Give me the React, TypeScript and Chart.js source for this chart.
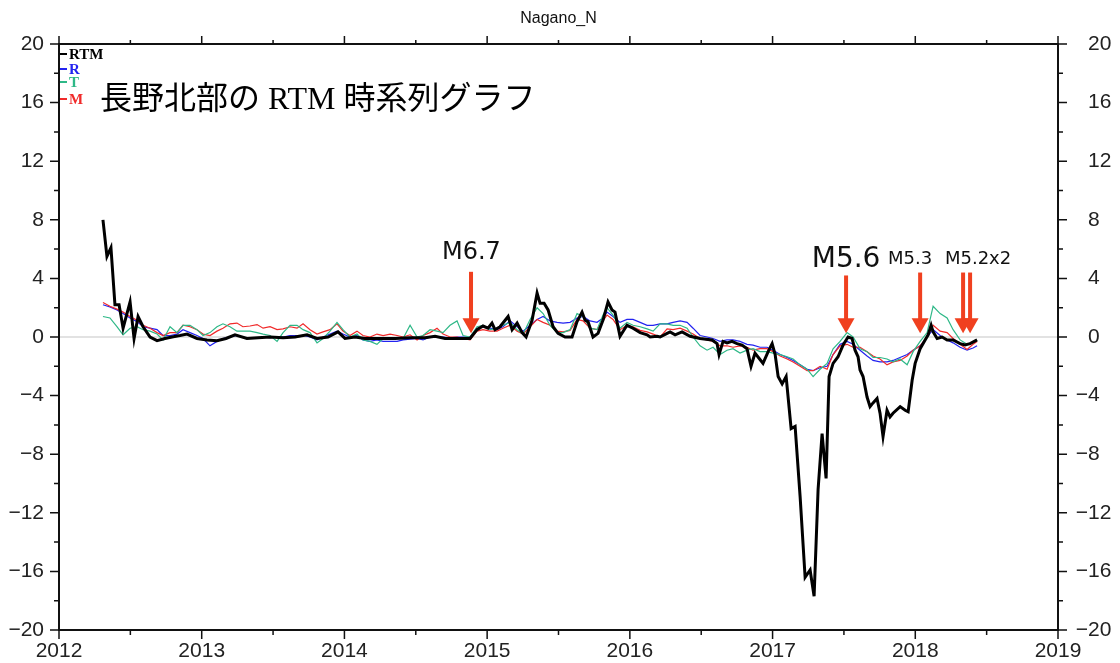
import React, { useEffect, useRef } from 'react';
import { Chart, registerables } from 'chart.js';

Chart.register(...registerables);

// ---- RTM (thick black) ----
const rtmDates = [
  2012.308, 2012.336, 2012.364, 2012.392, 2012.421, 2012.449, 2012.498, 2012.526, 2012.554, 2012.589,
  2012.638, 2012.687, 2012.743, 2012.792, 2012.848, 2012.897, 2012.967, 2013.037, 2013.107, 2013.170,
  2013.233, 2013.317, 2013.395, 2013.479, 2013.570, 2013.654, 2013.738, 2013.808, 2013.885, 2013.955,
  2014.004, 2014.074, 2014.144, 2014.250, 2014.355, 2014.460, 2014.565, 2014.635, 2014.705, 2014.810,
  2014.880, 2014.929, 2014.971, 2015.006, 2015.034, 2015.055, 2015.090, 2015.147, 2015.175, 2015.210,
  2015.245, 2015.273, 2015.315, 2015.350, 2015.371, 2015.399, 2015.427, 2015.462, 2015.497, 2015.546,
  2015.595, 2015.630, 2015.665, 2015.686, 2015.707, 2015.742, 2015.777, 2015.812, 2015.847, 2015.875,
  2015.896, 2015.931, 2015.980, 2016.022, 2016.072, 2016.121, 2016.142, 2016.191, 2016.212, 2016.261,
  2016.282, 2016.317, 2016.366, 2016.422, 2016.492, 2016.576, 2016.611, 2016.625, 2016.653, 2016.681,
  2016.716, 2016.751, 2016.786, 2016.821, 2016.849, 2016.877, 2016.905, 2016.933, 2016.969, 2016.997,
  2017.018, 2017.039, 2017.067, 2017.095, 2017.130, 2017.158, 2017.193, 2017.228, 2017.263, 2017.291,
  2017.319, 2017.347, 2017.375, 2017.396, 2017.424, 2017.459, 2017.494, 2017.529, 2017.557, 2017.578,
  2017.599, 2017.613, 2017.634, 2017.662, 2017.683, 2017.704, 2017.732, 2017.753, 2017.774, 2017.802,
  2017.823, 2017.844, 2017.894, 2017.929, 2017.950, 2017.978, 2017.999, 2018.034, 2018.069, 2018.090,
  2018.111, 2018.125, 2018.153, 2018.188, 2018.223, 2018.265, 2018.314, 2018.349, 2018.384, 2018.433,
];
const rtmValues = [
  8.0, 5.5, 6.1, 2.2, 2.2, 0.6, 2.4, -0.1, 1.4, 0.7,
  0.0, -0.25, -0.1, 0.0, 0.1, 0.2, -0.1, -0.2, -0.25, -0.1,
  0.15, -0.1, -0.05, 0.0, -0.05, 0.0, 0.15, -0.1, 0.0, 0.35,
  -0.1, 0.0, -0.1, -0.1, -0.1, -0.05, -0.05, 0.05, -0.1, -0.1,
  -0.1, 0.5, 0.75, 0.6, 0.95, 0.5, 0.7, 1.4, 0.5, 0.95,
  0.3, 0.0, 1.15, 3.0, 2.3, 2.3, 1.85, 0.7, 0.25, 0.0,
  0.0, 1.05, 1.7, 1.15, 1.05, 0.0, 0.25, 1.15, 2.4, 1.85,
  1.7, 0.05, 0.8, 0.6, 0.3, 0.15, 0.0, 0.05, 0.0, 0.25,
  0.35, 0.15, 0.35, 0.05, -0.1, -0.2, -0.45, -1.2, -0.3, -0.4,
  -0.3, -0.45, -0.55, -0.8, -2.0, -1.1, -1.45, -1.8, -1.0, -0.45,
  -1.2, -2.7, -3.2, -2.7, -6.25, -6.1, -10.9, -16.4, -15.9, -17.7,
  -10.4, -6.6, -9.65, -2.7, -1.8, -1.35, -0.55, 0.0, -0.1, -0.9,
  -1.35, -2.25, -2.7, -4.1, -4.75, -4.5, -4.2, -5.2, -6.8, -5.0,
  -5.45, -5.2, -4.75, -5.0, -5.1, -2.95, -1.8, -0.8, -0.2, 0.15,
  0.8, 0.35, -0.1, 0.0, -0.2, -0.2, -0.45, -0.55, -0.45, -0.2,
];

// ---- component series R, T, M ----
const compDates = [
  2012.308, 2012.357, 2012.406, 2012.449, 2012.498, 2012.547, 2012.589, 2012.638, 2012.687, 2012.729,
  2012.778, 2012.827, 2012.869, 2012.918, 2012.967,
  2013.009, 2013.058, 2013.107, 2013.149, 2013.198, 2013.247, 2013.289, 2013.338, 2013.388, 2013.430,
  2013.479, 2013.528, 2013.570, 2013.619, 2013.668, 2013.710, 2013.759, 2013.808, 2013.850, 2013.899,
  2013.948, 2013.990,
  2014.039, 2014.088, 2014.130, 2014.179, 2014.228, 2014.271, 2014.320, 2014.369, 2014.411, 2014.460,
  2014.509, 2014.551, 2014.600, 2014.649, 2014.691, 2014.740, 2014.789, 2014.831, 2014.880, 2014.929,
  2014.971,
  2015.020, 2015.069, 2015.111, 2015.161, 2015.210, 2015.252, 2015.301, 2015.350, 2015.392, 2015.441,
  2015.490, 2015.532, 2015.581, 2015.630, 2015.672, 2015.721, 2015.770, 2015.812, 2015.840, 2015.882,
  2015.931, 2015.980,
  2016.022, 2016.072, 2016.121, 2016.163, 2016.212, 2016.261, 2016.303, 2016.352, 2016.401, 2016.443,
  2016.492, 2016.541, 2016.583, 2016.632, 2016.681, 2016.723, 2016.772, 2016.821, 2016.863, 2016.912,
  2016.961,
  2017.004, 2017.053, 2017.102, 2017.144, 2017.193, 2017.242, 2017.284, 2017.333, 2017.382, 2017.424,
  2017.473, 2017.522, 2017.564, 2017.613, 2017.662, 2017.704, 2017.753, 2017.802, 2017.844, 2017.893,
  2017.943, 2017.985,
  2018.034, 2018.083, 2018.125, 2018.174, 2018.223, 2018.265, 2018.314, 2018.363, 2018.405, 2018.433,
];
const rValues = [
  2.2, 2.05, 1.85, 1.6, 1.3, 1.05, 0.7, 0.6, 0.5, 0.1, 0.1, 0.2, 0.5, 0.3, 0.1,
  -0.1, -0.6, -0.3, -0.1, 0.0, 0.1, 0.0, -0.1, -0.1, 0.0, -0.05, 0.0, 0.0, 0.1, 0.1, 0.1, 0.0, -0.2, 0.0, 0.2, 0.4, 0.2,
  0.0, 0.1, -0.2, -0.3, -0.2, -0.3, -0.3, -0.3, -0.2, -0.15, -0.1, -0.2, 0.0, 0.0, 0.0, -0.05, 0.0, 0.0, 0.0, 0.6, 0.7,
  0.6, 0.5, 0.7, 1.1, 0.7, 0.4, 0.8, 1.2, 1.4, 1.1, 1.0, 0.95, 1.0, 1.3, 1.4, 1.1, 1.0, 1.3, 1.7, 1.4, 1.0, 1.2,
  1.2, 1.0, 0.8, 0.8, 0.9, 0.9, 1.0, 1.1, 1.0, 0.6, 0.1, 0.0, -0.1, -0.3, -0.2, -0.2, -0.3, -0.5, -0.55, -0.7, -0.7,
  -0.9, -1.2, -1.4, -1.6, -1.9, -2.2, -2.3, -2.1, -2.0, -1.2, -0.5, -0.3, -0.5, -0.9, -1.3, -1.6, -1.7, -1.7, -1.6, -1.4, -1.2, -0.9,
  -0.6, 0.0, 0.5, 0.1, -0.2, -0.4, -0.7, -0.9, -0.75, -0.6,
];
const tValues = [
  1.4, 1.3, 0.7, 0.15, 0.6, 0.7, 0.5, 0.4, 0.2, -0.2, 0.7, 0.3, 0.8, 0.8, 0.5,
  0.1, 0.3, 0.7, 0.9, 0.7, 0.4, 0.4, 0.4, 0.3, 0.2, 0.1, -0.3, 0.3, 0.8, 0.8, 0.5, 0.3, -0.4, -0.1, 0.4, 1.0, 0.5,
  0.0, 0.2, -0.2, -0.3, -0.5, -0.1, -0.1, -0.1, -0.1, 0.8, 0.0, 0.1, 0.5, 0.4, 0.3, 0.8, 1.1, 0.1, 0.0, 0.7, 0.8,
  0.5, 0.6, 0.8, 1.0, 0.5, 0.2, 1.2, 2.0, 1.6, 0.8, 0.3, 0.3, 0.5, 1.6, 1.4, 0.6, 0.5, 1.5, 2.0, 1.5, 0.6, 1.0,
  0.8, 0.7, 0.55, 0.4, 0.9, 0.9, 0.8, 0.8, 0.6, 0.0, -0.6, -0.9, -0.7, -1.2, -0.9, -0.8, -1.1, -0.9, -0.8, -1.0, -1.0,
  -1.1, -1.2, -1.35, -1.5, -1.9, -2.2, -2.7, -2.2, -1.8, -0.8, -0.3, 0.3, 0.0, -0.8, -1.0, -1.4, -1.4, -1.5, -1.7, -1.5, -1.9, -1.0,
  -0.3, 0.3, 2.1, 1.6, 1.3, 0.5, -0.2, -0.5, -0.35, -0.2,
];
const mValues = [
  2.35, 2.1, 1.9, 1.7, 1.4, 1.15, 0.8, 0.6, 0.3, 0.1, 0.3, 0.3, 0.8, 0.7, 0.5,
  0.2, 0.1, 0.4, 0.6, 0.9, 0.95, 0.7, 0.75, 0.85, 0.6, 0.7, 0.5, 0.55, 0.7, 0.6, 0.9, 0.5, 0.2, 0.35, 0.5, 0.9, 0.4,
  0.1, 0.4, 0.1, 0.0, 0.2, 0.1, 0.2, 0.1, 0.0, 0.15, -0.2, 0.1, 0.3, 0.6, 0.2, 0.0, 0.0, -0.1, -0.2, 0.4, 0.5,
  0.4, 0.4, 0.6, 0.8, 0.4, 0.2, 0.7, 1.2, 1.0, 0.8, 0.4, 0.35, 0.45, 1.2, 1.1, 0.6, 0.5, 1.1, 1.5, 1.2, 0.5, 0.8,
  0.7, 0.45, 0.35, 0.2, 0.0, 0.55, 0.5, 0.6, 0.4, 0.2, -0.1, -0.2, -0.3, -0.6, -0.6, -0.7, -0.6, -0.7, -0.9, -0.8, -0.8,
  -1.0, -1.3, -1.5, -1.7, -2.0, -2.3, -2.3, -2.0, -2.2, -1.2, -0.6, -0.5, -0.7, -0.7, -1.0, -1.3, -1.5, -1.9, -1.7, -1.6, -1.3, -0.9,
  -0.6, 0.0, 0.8, 0.4, 0.3, -0.1, -0.5, -0.85, -0.5, -0.3,
];

// ---- axes ----
const xMin = 2012;
const xMax = 2019;
const yMin = -20;
const yMax = 20;
const yLabelStep = 4;

// ---- earthquake events ----
const eventDates = [2014.887, 2017.515, 2018.034, 2018.335, 2018.384];
const eventTopValues = [4.45, 4.2, 4.4, 4.4, 4.4];
const eventTipValues = [0.25, 0.25, 0.25, 0.25, 0.25];
const eventLabels = ['M6.7', 'M5.6', 'M5.3', 'M5.2x2'];
const eventLabelDates = [2014.89, 2017.515, 2017.964, 2018.44];
const eventLabelValues = [5.73, 5.3, 5.3, 5.3];

const titleText = 'Nagano_N';
const noteText = '長野北部の RTM 時系列グラフ';
const legendNames = ['RTM', 'R', 'T', 'M'];

const COLORS = { RTM: '#000000', R: '#2323f0', T: '#2eb887', M: '#f02a2a' };
const ARROW = '#f0401f';
const SANS = '"Liberation Sans", Arial, Helvetica, sans-serif';
const SERIF = '"Liberation Serif", "Times New Roman", "Noto Sans CJK JP", serif';

function pts(dates: number[], vals: number[]) {
  const n = Math.min(dates.length, vals.length);
  const out: { x: number; y: number }[] = [];
  for (let i = 0; i < n; i++) out.push({ x: dates[i], y: vals[i] });
  return out;
}

const fmt = (v: number) => (v < 0 ? '\u2212' + Math.abs(v) : String(v));

const decor = {
  id: 'decor',
  beforeDatasetsDraw(chart: any) {
    const { ctx, chartArea: a, scales } = chart;
    const y0 = scales.y.getPixelForValue(0);
    ctx.save();
    ctx.strokeStyle = '#d8d8d8';
    ctx.lineWidth = 1.5;
    ctx.beginPath();
    ctx.moveTo(a.left, y0);
    ctx.lineTo(a.right, y0);
    ctx.stroke();
    ctx.restore();
  },
  afterDraw(chart: any) {
    const { ctx, chartArea: a, scales } = chart;
    const xs = scales.x;
    const ys = scales.y;
    ctx.save();

    // arrows
    ctx.fillStyle = ARROW;
    eventDates.forEach((d, i) => {
      const x = xs.getPixelForValue(d);
      const yt = ys.getPixelForValue(eventTopValues[i]);
      const yb = ys.getPixelForValue(eventTipValues[i]);
      const hh = 15;
      const hw = 8.5;
      ctx.fillRect(x - 2, yt, 4, yb - hh - yt + 1);
      ctx.beginPath();
      ctx.moveTo(x - hw, yb - hh);
      ctx.lineTo(x + hw, yb - hh);
      ctx.lineTo(x, yb);
      ctx.closePath();
      ctx.fill();
    });

    // event labels
    const labelSizes = [24, 28, 18, 18];
    ctx.fillStyle = '#111';
    ctx.textAlign = 'center';
    ctx.textBaseline = 'middle';
    eventLabels.forEach((t, i) => {
      ctx.font = `${labelSizes[i]}px "DejaVu Sans", sans-serif`;
      ctx.fillText(t, xs.getPixelForValue(eventLabelDates[i]), ys.getPixelForValue(eventLabelValues[i]));
    });

    // title
    ctx.font = `16px ${SANS}`;
    ctx.fillStyle = '#111';
    ctx.fillText(titleText, (a.left + a.right) / 2, 19);

    // Japanese note
    ctx.textAlign = 'left';
    ctx.font = `32px ${SERIF}`;
    ctx.fillStyle = '#000';
    ctx.fillText(noteText, a.left + 41, a.top + 57);

    // legend
    const legendY = [54, 69, 82, 99];
    ctx.font = `bold 15px ${SERIF}`;
    legendNames.forEach((n, i) => {
      const c = (COLORS as any)[n];
      ctx.strokeStyle = c;
      ctx.fillStyle = c;
      ctx.lineWidth = 2;
      ctx.beginPath();
      ctx.moveTo(a.left, legendY[i]);
      ctx.lineTo(a.left + 8, legendY[i]);
      ctx.stroke();
      ctx.fillText(n, a.left + 10, legendY[i] + 1);
    });

    // frame
    ctx.strokeStyle = '#111';
    ctx.lineWidth = 2;
    ctx.strokeRect(a.left, a.top, a.right - a.left, a.bottom - a.top);

    // ticks
    ctx.lineWidth = 1.5;
    ctx.beginPath();
    for (let v = xMin; v <= xMax + 1e-9; v += 0.5) {
      const x = xs.getPixelForValue(v);
      const major = Math.abs(v - Math.round(v)) < 1e-6;
      ctx.moveTo(x, a.bottom);
      ctx.lineTo(x, a.bottom + (major ? 9 : 5));
      ctx.moveTo(x, a.top);
      ctx.lineTo(x, a.top - (major ? 8 : 4));
    }
    for (let v = yMin; v <= yMax; v += 2) {
      const y = ys.getPixelForValue(v);
      const major = v % 4 === 0;
      ctx.moveTo(a.left, y);
      ctx.lineTo(a.left - (major ? 9 : 5), y);
      ctx.moveTo(a.right, y);
      ctx.lineTo(a.right + (major ? 9 : 5), y);
    }
    ctx.stroke();

    // right-hand labels
    ctx.font = `21px ${SANS}`;
    ctx.fillStyle = '#222';
    ctx.textBaseline = 'middle';
    for (let v = yMin; v <= yMax; v += yLabelStep) {
      const y = ys.getPixelForValue(v);
      ctx.textAlign = 'left';
      ctx.fillText(String(Math.abs(v)), a.right + 30, y);
      if (v < 0) {
        ctx.textAlign = 'right';
        ctx.fillText('\u2212', a.right + 30, y);
      }
    }
    ctx.restore();
  },
};

export default function App() {
  const ref = useRef<HTMLCanvasElement | null>(null);
  useEffect(() => {
    if (!ref.current) return;
    const chart = new Chart(ref.current, {
      type: 'line',
      data: {
        datasets: [
          { label: 'RTM', data: pts(rtmDates, rtmValues), borderColor: COLORS.RTM, borderWidth: 3, pointRadius: 0, tension: 0, order: 0 },
          { label: 'R', data: pts(compDates, rValues), borderColor: COLORS.R, borderWidth: 1.2, pointRadius: 0, tension: 0, order: 3 },
          { label: 'M', data: pts(compDates, mValues), borderColor: COLORS.M, borderWidth: 1.2, pointRadius: 0, tension: 0, order: 2 },
          { label: 'T', data: pts(compDates, tValues), borderColor: COLORS.T, borderWidth: 1.2, pointRadius: 0, tension: 0, order: 1 },
        ],
      },
      options: {
        animation: false,
        responsive: false,
        events: [],
        layout: { padding: { top: 44, left: 0, right: 0, bottom: 0 } },
        plugins: { legend: { display: false }, tooltip: { enabled: false }, title: { display: false } },
        scales: {
          x: {
            type: 'linear',
            position: 'bottom',
            min: xMin,
            max: xMax,
            grid: { display: false, drawTicks: false },
            border: { display: false },
            ticks: { stepSize: 1, padding: 9, color: '#222', font: { family: SANS, size: 21 }, callback: (v: any) => String(v), maxRotation: 0 },
            afterFit: (s: any) => { s.height = 33; },
          },
          y: {
            type: 'linear',
            position: 'left',
            min: yMin,
            max: yMax,
            grid: { display: false, drawTicks: false },
            border: { display: false },
            ticks: { stepSize: yLabelStep, padding: 15, color: '#222', font: { family: SANS, size: 21 }, callback: (v: any) => fmt(Number(v)) },
            afterFit: (s: any) => { s.width = 59; },
          },
          y2: {
            type: 'linear',
            position: 'right',
            min: yMin,
            max: yMax,
            grid: { display: false, drawTicks: false },
            border: { display: false },
            ticks: { display: false },
            afterFit: (s: any) => { s.width = 62; },
          },
        },
      },
      plugins: [decor],
    } as any);
    return () => chart.destroy();
  }, []);
  return (
    <div style={{ position: 'absolute', left: 0, top: 0, width: 1120, height: 663, background: '#fff' }}>
      <canvas ref={ref} width={1120} height={663} style={{ display: 'block' }} />
    </div>
  );
}
